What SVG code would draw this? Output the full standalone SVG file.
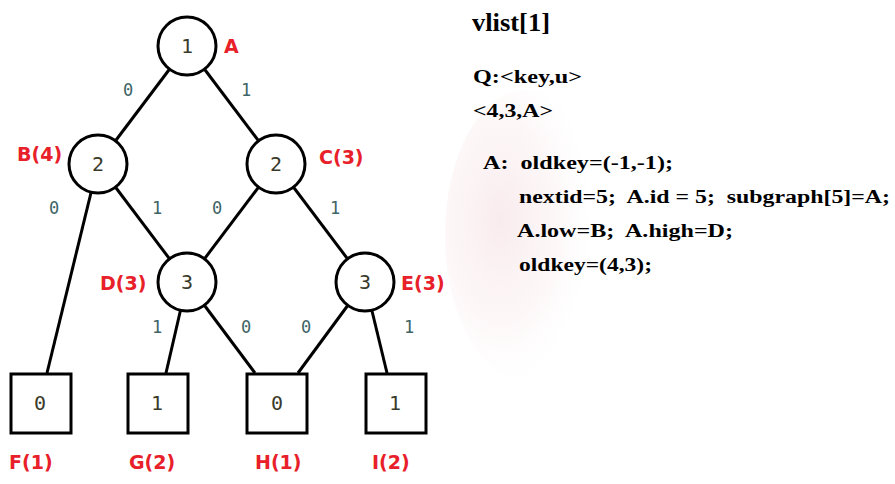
<svg xmlns="http://www.w3.org/2000/svg" width="895" height="484" viewBox="0 0 895 484">
<defs>
<radialGradient id="wm" cx="0.35" cy="0.45" r="0.6">
<stop offset="0" stop-color="#f7e6e8" stop-opacity="0.8"/>
<stop offset="0.6" stop-color="#faeef0" stop-opacity="0.45"/>
<stop offset="1" stop-color="#ffffff" stop-opacity="0"/>
</radialGradient>
</defs>
<style>
.edge{stroke:#000;stroke-width:3;fill:none}
.node{fill:#fff;stroke:#000;stroke-width:3}
.val{font-family:"DejaVu Sans Mono",monospace;font-size:20px;fill:#3a3a2a;text-anchor:middle}
.el{font-family:"DejaVu Sans Mono",monospace;font-size:17px;fill:#3d6466;text-anchor:middle}
.lab{font-family:"DejaVu Sans",sans-serif;font-weight:bold;font-size:19px;fill:#e8202a}
.code{font-family:"Liberation Serif",serif;font-weight:bold;font-size:18.5px;fill:#000}
</style>
<rect width="895" height="484" fill="#fff"/>
<ellipse cx="525" cy="235" rx="80" ry="145" fill="url(#wm)"/>
<g id="connectors">
<line class="edge" x1="187" y1="46" x2="98" y2="164"/>
<line class="edge" x1="187" y1="46" x2="276" y2="164"/>
<line class="edge" x1="98" y1="164" x2="47" y2="373"/>
<line class="edge" x1="98" y1="164" x2="187" y2="282"/>
<line class="edge" x1="276" y1="164" x2="187" y2="282"/>
<line class="edge" x1="276" y1="164" x2="365" y2="282"/>
<line class="edge" x1="187" y1="282" x2="166" y2="373"/>
<line class="edge" x1="187" y1="282" x2="255" y2="373"/>
<line class="edge" x1="365" y1="282" x2="298" y2="373"/>
<line class="edge" x1="365" y1="282" x2="387" y2="373"/>
<text class="el" x="128" y="96">0</text>
<text class="el" x="246" y="96">1</text>
<text class="el" x="54" y="214">0</text>
<text class="el" x="157" y="214">1</text>
<text class="el" x="217" y="214">0</text>
<text class="el" x="335" y="214">1</text>
<text class="el" x="157" y="333">1</text>
<text class="el" x="246" y="333">0</text>
<text class="el" x="306" y="333">0</text>
<text class="el" x="409" y="333">1</text>
</g>
<g id="A"><circle class="node" cx="187" cy="46" r="29"/><text class="val" x="187" y="53">1</text><text class="lab" x="224" y="53">A</text></g>
<g id="B"><circle class="node" cx="98" cy="164" r="29"/><text class="val" x="98" y="171">2</text><text class="lab" x="17" y="161">B(4)</text></g>
<g id="C"><circle class="node" cx="276" cy="164" r="29"/><text class="val" x="276" y="171">2</text><text class="lab" x="319" y="164">C(3)</text></g>
<g id="D"><circle class="node" cx="187" cy="282" r="29"/><text class="val" x="187" y="289">3</text><text class="lab" x="100" y="290">D(3)</text></g>
<g id="E"><circle class="node" cx="365" cy="282" r="29"/><text class="val" x="365" y="289">3</text><text class="lab" x="401" y="290">E(3)</text></g>
<g id="F"><rect class="node" x="11" y="374" width="60" height="59"/><text class="val" x="40" y="410">0</text><text class="lab" x="9" y="469">F(1)</text></g>
<g id="G"><rect class="node" x="128" y="374" width="60" height="59"/><text class="val" x="157" y="410">1</text><text class="lab" x="129" y="469">G(2)</text></g>
<g id="H"><rect class="node" x="247" y="374" width="60" height="59"/><text class="val" x="277" y="410">0</text><text class="lab" x="255" y="469">H(1)</text></g>
<g id="I"><rect class="node" x="366" y="374" width="60" height="59"/><text class="val" x="395" y="410">1</text><text class="lab" x="372" y="469">I(2)</text></g>
<g id="code">
<text class="code" x="472" y="31" style="font-size:25px" textLength="78" lengthAdjust="spacingAndGlyphs">vlist[1]</text>
<text class="code" x="473" y="83" textLength="109" lengthAdjust="spacingAndGlyphs">Q:&lt;key,u&gt;</text>
<text class="code" x="473" y="117" textLength="80" lengthAdjust="spacingAndGlyphs">&lt;4,3,A&gt;</text>
<text class="code" x="483" y="169" xml:space="preserve" textLength="190" lengthAdjust="spacingAndGlyphs">A:  oldkey=(-1,-1);</text>
<text class="code" x="519" y="203" xml:space="preserve" textLength="371" lengthAdjust="spacingAndGlyphs">nextid=5;  A.id = 5;  subgraph[5]=A;</text>
<text class="code" x="517" y="237" xml:space="preserve" textLength="216" lengthAdjust="spacingAndGlyphs">A.low=B;  A.high=D;</text>
<text class="code" x="519" y="271" xml:space="preserve" textLength="133" lengthAdjust="spacingAndGlyphs">oldkey=(4,3);</text>
</g>
</svg>
